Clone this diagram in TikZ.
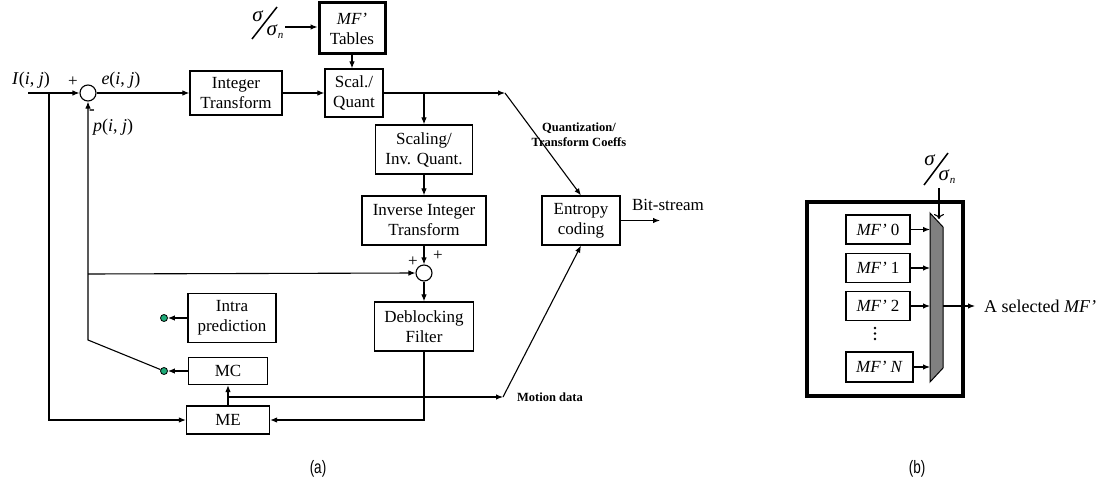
\documentclass[tikz,border=0pt]{standalone}
\usepackage{graphicx}
\usepackage{fontspec}
\setmainfont{Liberation Serif}
\newfontfamily\capfont{Liberation Sans}
\usetikzlibrary{arrows.meta}
\definecolor{dotgreen}{RGB}{30,170,120}
\definecolor{muxgray}{RGB}{128,128,128}
\begin{document}
\begin{tikzpicture}[x=1pt,y=-1pt,
  box/.style={draw, line width=1.2pt, align=center, inner sep=0pt, font=\fontsize{17}{20}\selectfont},
  thickbox/.style={box, line width=3pt},
  conn/.style={line width=1.1pt},
  arr/.style={conn, -{Latex[length=7pt,width=5.5pt]}},
  lbl/.style={font=\fontsize{17}{20}\selectfont, inner sep=0pt},
  mlbl/.style={font=\fontsize{18}{20}\selectfont, inner sep=0pt},
  siglbl/.style={font=\fontsize{21}{22}\selectfont, inner sep=0pt},
  small/.style={font=\fontsize{12.5}{15}\selectfont\bfseries, inner sep=0pt, align=center},
  dotg/.style={circle, draw, fill=dotgreen, minimum size=7pt, inner sep=0pt, line width=0.8pt},
  sumc/.style={circle, draw, line width=1.1pt, minimum size=16pt, inner sep=0pt},
  captxt/.style={font=\capfont\fontsize{18}{20}\selectfont, inner sep=0pt},
]
\useasboundingbox (0,0) rectangle (1106,487);

% ---------------- panel (a) ----------------
\node[thickbox, minimum width=66pt, minimum height=51pt] (tables) at (352,28.5) {\textit{MF’}\\Tables};
\node[box, minimum width=58pt, minimum height=48pt] (scal) at (354,93) {Scal./\\Quant};
\node[box, minimum width=92pt, minimum height=44pt] (intT) at (236,93) {Integer\\Transform};
\node[box, minimum width=97pt, minimum height=49pt] (scaling) at (424,149.5) {Scaling/\\Inv. Quant.};
\node[box, minimum width=124pt, minimum height=49pt] (inv) at (424,220.5) {Inverse Integer\\Transform};
\node[sumc] (adder) at (424,273) {};
\node[box, minimum width=99pt, minimum height=49pt] (deblock) at (424,326.5) {Deblocking\\Filter};
\node[box, minimum width=78pt, minimum height=49pt] (entropy) at (581,220.5) {Entropy\\coding};
\node[box, minimum width=88pt, minimum height=49pt] (intra) at (232,318) {Intra\\prediction};
\node[box, minimum width=79pt, minimum height=27pt] (mc) at (228,371) {MC};
\node[box, minimum width=83pt, minimum height=28pt] (me) at (228,420) {ME};
\node[sumc] (sum) at (88,93) {};
\node[dotg] (dot1) at (164,318) {};
\node[dotg] (dot2) at (164,371) {};

\coordinate (inI) at (28,93);
\coordinate (jI) at (49,93);
\coordinate (jp) at (88,340);
\coordinate (jfb) at (88,274);
\coordinate (jscal) at (424,93);
\coordinate (q1) at (505,93);
\coordinate (jme) at (228,397);
\coordinate (md) at (503,397);
\coordinate (bs) at (660,220.5);
\coordinate (sigA) at (285,27);

% labels
\node[mlbl] (lI) at (31,80) {\textit{I}(\textit{i}, \textit{j})};
\node[mlbl] (le) at (121,80) {\textit{e}(\textit{i}, \textit{j})};
\node[mlbl] (lp) at (113,127) {\textit{p}(\textit{i}, \textit{j})};
\node[lbl] (lplus1) at (73,82) {+};
\node[lbl, font=\fontsize{17}{20}\bfseries] (lminus) at (92,112) {-};
\node[lbl] (lplus2) at (413,262) {+};
\node[lbl] (lplus3) at (438,256) {+};
\node[small] (lq) at (579,134.5) {Quantization/\\Transform Coeffs};
\node[small] (lmd) at (550,397) {Motion data};
\node[lbl] (lbs) at (668,205) {Bit-stream};

% sigma/sigma_n (a)
\node[siglbl] (s1) at (258,16) {\textit{σ}};
\node[siglbl] (s2) at (275,32) {\textit{σ}\raisebox{-3pt}{\fontsize{11}{11}\selectfont\textit{n}}};
\draw[line width=1.5pt] (252,39) -- (277,7);

% connectors (a)
\draw[arr] (sigA) -- (sigA -| tables.west);
\draw[arr] (tables.south) -- (tables.south |- scal.north);
\draw[arr] (inI) -- (sum.west);
\draw[arr] (jI) |- (me.west);
\draw[arr] (sum.east) -- (intT.west);
\draw[arr] (intT.east) -- (scal.west);
\draw[arr] (scal.east) -- (q1);
\draw[arr] (q1) -- (entropy.north);
\draw[arr] (jscal) -- (scaling.north);
\draw[arr] (scaling.south) -- (inv.north);
\draw[arr] (inv.south) -- (adder.north);
\draw[arr] (adder.south) -- (deblock.north);
\draw[arr] (deblock.south) |- (me.east);
\draw[arr] (entropy.east) -- (bs);
\draw[arr] (me.north) -- (mc.south);
\draw[arr] (jme) -- (md);
\draw[arr] (md) -- (entropy.south);
\draw[arr] (intra.west) -- (dot1.east);
\draw[arr] (mc.west) -- (dot2.east);
\draw[arr] (dot2) -- (jp) -- (sum.south);
\draw[arr] (jfb) -- (adder.west);

% ---------------- panel (b) ----------------
\draw[line width=4pt] (807,202) rectangle (963,396);
\node[box, minimum width=64pt, minimum height=29pt] (mf0) at (878,229.5) {\textit{MF’} 0};
\node[box, minimum width=64pt, minimum height=29pt] (mf1) at (878,268) {\textit{MF’} 1};
\node[box, minimum width=64pt, minimum height=29pt] (mf2) at (878,306) {\textit{MF’} 2};
\node[box, minimum width=67pt, minimum height=30pt] (mfN) at (879.5,367) {\textit{MF’ N}};
\fill (875,328) circle (1.3pt) (875,333.5) circle (1.3pt) (875,339) circle (1.3pt);
\draw[line width=1pt, fill=muxgray] (930,213) -- (943,227) -- (943,368) -- (930,382) -- cycle;
\coordinate (muxL) at (930,0);
\coordinate (muxout) at (943,306);
\coordinate (outend) at (975,306);
\coordinate (sigb) at (939,188);
\coordinate (muxtop) at (939,219);
\draw[arr] (mf0.east) -- (mf0.east -| muxL);
\draw[arr] (mf1.east) -- (mf1.east -| muxL);
\draw[arr] (mf2.east) -- (mf2.east -| muxL);
\draw[arr] (mfN.east) -- (mfN.east -| muxL);
\draw[conn, -{To[length=5pt,width=10pt]}] (sigb) -- (muxtop);
\draw[arr] (muxout) -- (outend);
\node[lbl, anchor=west, font=\fontsize{18}{20}\selectfont] (lsel) at (984,306) {A selected \textit{MF’}};
\node[siglbl] (s3) at (930,160) {\textit{σ}};
\node[siglbl] (s4) at (947,177) {\textit{σ}\raisebox{-3pt}{\fontsize{11}{11}\selectfont\textit{n}}};
\draw[line width=1.5pt] (924,185) -- (948,153);

% captions
\node[captxt] (capa) at (318,469) {\scalebox{0.75}[1]{(a)}};
\node[captxt] (capb) at (917,469) {\scalebox{0.75}[1]{(b)}};
\end{tikzpicture}
\end{document}
